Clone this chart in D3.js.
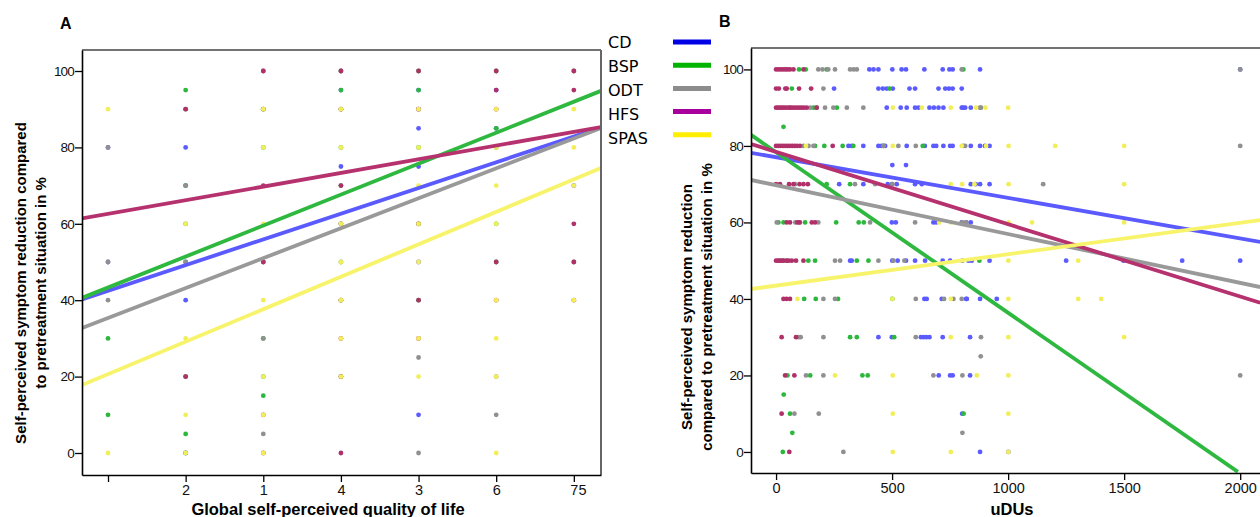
<html>
  <meta charset="utf-8" />
  <script src="https://d3js.org/d3.v7.min.js"></script>
  <style>
    body { margin: 0; background: #fff; }
    text { font-family: "Liberation Sans", Arial, sans-serif; }
    text.legend { font-family: "DejaVu Sans", Verdana, sans-serif; }
  </style>
  <body>
    <svg width="1260" height="517" id="fig"></svg>
    <script>
      // groups, in legend order
      const groups = ["CD", "BSP", "ODT", "HFS", "SPAS"];
      const legendColors = ["#0000e6", "#00b400", "#8c8c8c", "#a8009c", "#ffee00"];
      const lineColors = ["#5a5aff", "#2fb83f", "#999999", "#b5326e", "#f7f46c"];
      const dotColors = ["#5b5bff", "#2db83d", "#909090", "#b0306a", "#f2ee5a"];

      // panel A: x = position 1..7, tick labels as printed
      const xTicksA = [1, 2, 3, 4, 5, 6, 7];
      const xLabelsA = ["", "2", "1", "4", "3", "6", "75"];
      const yTicks = [0, 20, 40, 60, 80, 100];

      // panel A scatter, [position, score]
      const cdA = [[1, 80], [1, 50], [2, 80], [2, 50], [2, 40], [2, 0], [2, 70], [4, 95], [4, 75],
        [5, 95], [5, 90], [5, 85], [5, 75], [5, 50], [5, 10], [6, 95], [6, 85], [7, 70]];
      const bspA = [[1, 30], [1, 10], [2, 95], [2, 90], [2, 70], [2, 60], [2, 20], [2, 5], [2, 0],
        [3, 90], [3, 80], [3, 50], [3, 30], [3, 20], [3, 15], [4, 100], [4, 95], [4, 90], [4, 80],
        [4, 70], [4, 60], [4, 50], [4, 40], [4, 20], [5, 100], [5, 95], [5, 80], [5, 60], [5, 40],
        [6, 100], [6, 85], [6, 80], [6, 60], [6, 50], [7, 100], [7, 50]];
      const odtA = [[1, 80], [1, 50], [1, 40], [2, 70], [2, 50], [2, 20], [3, 100], [3, 30], [3, 5],
        [4, 100], [5, 25], [5, 0], [6, 20], [6, 10]];
      const spasA = [[1, 90], [1, 0], [2, 60], [2, 30], [2, 10], [2, 0], [3, 90], [3, 80], [3, 60],
        [3, 40], [3, 20], [3, 10], [3, 0], [4, 90], [4, 80], [4, 60], [4, 50], [4, 40], [4, 30],
        [4, 20], [5, 90], [5, 80], [5, 70], [5, 60], [5, 50], [5, 30], [5, 20], [6, 90], [6, 80],
        [6, 70], [6, 60], [6, 40], [6, 30], [6, 20], [6, 0], [7, 90], [7, 80], [7, 70], [7, 40]];
      const hfsA = [[2, 90], [2, 20], [3, 100], [3, 90], [3, 70], [3, 50], [3, 10], [3, 0],
        [4, 100], [4, 90], [4, 70], [4, 60], [4, 40], [4, 30], [4, 20], [4, 0], [5, 100], [5, 90],
        [5, 60], [5, 40], [5, 30], [6, 100], [6, 95], [6, 90], [6, 50], [6, 40], [7, 100], [7, 95],
        [7, 60], [7, 50], [7, 40]];

      // panel A fit lines: value at left and right edge of the frame
      const fitStartA = [40.2, 40.6, 32.7, 61.4, 17.8];
      const fitEndA = [85.2, 94.8, 85.1, 85.3, 74.6];

      // panel B scatter, [uDUs, score]
      const cdB = [[402, 100], [420, 100], [441, 100], [501, 100], [541, 100], [560, 100], [639, 100],
        [718, 100], [747, 100], [761, 100], [879, 100], [2000, 100],
        [250, 95], [441, 95], [460, 95], [477, 95], [503, 95], [575, 95], [599, 95], [700, 95],
        [729, 95], [745, 95], [761, 95], [800, 95],
        [477, 90], [537, 90], [563, 90], [599, 90], [614, 90], [661, 90], [680, 90], [700, 90],
        [721, 90], [800, 90], [806, 90], [815, 90], [839, 90],
        [312, 80], [326, 80], [376, 80], [441, 80], [455, 80], [470, 80], [563, 80], [641, 80],
        [678, 80], [690, 80], [721, 80], [750, 80], [761, 80], [839, 80], [879, 80], [900, 80], [920, 80],
        [501, 75], [560, 75],
        [272, 70], [376, 70], [481, 70], [500, 70], [520, 70], [599, 70], [628, 70], [839, 70],
        [860, 70], [879, 70], [920, 70],
        [499, 60], [516, 60], [678, 60], [690, 60], [800, 60], [820, 60], [839, 60],
        [319, 50], [326, 50], [501, 50], [524, 50], [560, 50], [599, 50], [642, 50], [718, 50],
        [750, 50], [829, 50], [843, 50], [920, 50], [1250, 50], [1497, 50], [1750, 50], [2000, 50],
        [639, 40], [649, 40], [714, 40], [819, 40], [822, 40], [879, 40], [951, 40],
        [441, 30], [499, 30], [624, 30], [636, 30], [648, 30], [661, 30], [718, 30], [836, 30],
        [701, 20], [750, 20], [761, 20], [836, 20], [802, 10], [879, 0], [1001, 0]];
      const bspB = [[99, 100], [128, 100], [218, 100], [807, 100], [68, 95], [489, 95],
        [161, 90], [175, 90], [262, 90], [32, 85],
        [168, 80], [208, 80], [287, 80], [333, 80], [463, 80], [632, 80], [218, 70], [319, 70],
        [10, 60], [32, 60], [125, 60], [259, 60], [356, 60], [378, 60],
        [30, 50], [139, 50], [168, 50], [348, 50], [398, 50], [876, 50],
        [121, 40], [171, 40], [267, 40], [501, 40], [319, 30], [348, 30], [509, 30],
        [49, 20], [147, 20], [372, 20], [395, 20], [33, 15], [60, 10], [808, 10], [70, 5], [29, 0]];
      const odtB = [[182, 100], [200, 100], [225, 100], [254, 100], [319, 100], [334, 100],
        [348, 100], [800, 100], [2000, 100], [204, 95],
        [60, 90], [147, 90], [211, 90], [247, 90], [305, 90], [376, 90], [879, 90], [883, 90],
        [118, 80], [140, 80], [161, 80], [463, 80], [527, 80], [602, 80], [806, 80], [815, 80], [2000, 80],
        [82, 70], [340, 70], [427, 70], [501, 70], [1151, 70],
        [3, 60], [83, 60], [103, 60], [182, 60], [405, 60], [599, 60], [802, 60], [819, 60],
        [14, 50], [30, 50], [46, 50], [254, 50], [276, 50], [441, 50], [506, 50], [553, 50], [803, 50],
        [204, 40], [254, 40], [602, 40], [724, 40], [764, 40], [800, 40],
        [96, 30], [106, 30], [204, 30], [602, 30], [883, 30], [882, 25],
        [129, 20], [204, 20], [678, 20], [803, 20], [2000, 20], [79, 10], [184, 10], [803, 5], [290, 0]];
      const spasB = [[503, 90], [628, 90], [753, 90], [862, 90], [902, 90], [1000, 90],
        [129, 80], [503, 80], [800, 80], [905, 80], [1002, 80], [1203, 80], [1500, 80],
        [753, 70], [802, 70], [855, 70], [1002, 70], [1500, 70],
        [703, 60], [753, 60], [1002, 60], [1103, 60], [1500, 60], [1001, 50], [1302, 50],
        [92, 40], [501, 40], [753, 40], [1001, 40], [1302, 40], [1401, 40],
        [753, 30], [1001, 30], [1500, 30], [254, 20], [503, 20], [865, 20], [1001, 20],
        [503, 10], [1001, 10], [503, 0], [753, 0], [1001, 0]];
      const hfsB = [[0, 100], [10, 100], [20, 100], [30, 100], [40, 100], [50, 100], [60, 100],
        [75, 100], [118, 100],
        [0, 95], [12, 95], [40, 95], [46, 95], [99, 95], [151, 95],
        [0, 90], [8, 90], [16, 90], [24, 90], [32, 90], [40, 90], [50, 90], [60, 90], [70, 90],
        [80, 90], [90, 90], [100, 90], [110, 90], [120, 90], [132, 90], [175, 90],
        [0, 80], [10, 80], [20, 80], [30, 80], [40, 80], [50, 80], [60, 80], [70, 80], [80, 80],
        [90, 80], [103, 80], [244, 80],
        [0, 70], [17, 70], [56, 70], [75, 70], [101, 70], [118, 70], [137, 70],
        [46, 60], [60, 60], [92, 60], [101, 60], [154, 60], [168, 60],
        [0, 50], [10, 50], [20, 50], [30, 50], [45, 50], [55, 50], [68, 50], [86, 50], [118, 50],
        [32, 40], [45, 40], [60, 40], [24, 30], [86, 30], [39, 20], [79, 20], [24, 10], [57, 0]];

      // panel B fit lines: [x0, y0, x1, y1]
      const fitStartXB = [-108, -108, -108, -108, -108];
      const fitStartB = [78.2, 82.9, 71.1, 80.5, 42.6];
      const fitEndXB = [2086, 1990, 2086, 2086, 2086];
      const fitEndB = [54.9, -5.2, 43.1, 39.0, 60.6];
      const xTicksB = [0, 500, 1000, 1500, 2000];

      const svg = d3.select("#fig");

      function drawPanel(opt) {
        const { x, y, dots, fits, xTicks, xFormat, letter, letterX } = opt;
        const [l, r] = x.range();
        const [b, t] = y.range();
        const g = svg.append("g");

        const clipId = "clip" + letter;
        svg.append("clipPath").attr("id", clipId)
          .append("rect").attr("x", l).attr("y", t).attr("width", r - l).attr("height", b - t);

        const plot = g.append("g").attr("clip-path", `url(#${clipId})`);
        dots.forEach((pts, i) => {
          plot.append("g").selectAll("circle").data(pts).enter().append("circle")
            .attr("cx", (d) => x(d[0]))
            .attr("cy", (d) => y(d[1]))
            .attr("r", 2.4)
            .attr("fill", dotColors[i]);
        });
        fits.forEach((f, i) => {
          plot.append("line")
            .attr("x1", x(f[0])).attr("y1", y(f[1]))
            .attr("x2", x(f[2])).attr("y2", y(f[3]))
            .attr("stroke", lineColors[i]).attr("stroke-width", 3.8);
        });

        // frame top / right
        g.append("line").attr("x1", l).attr("x2", r).attr("y1", t).attr("y2", t)
          .attr("stroke", "#444").attr("stroke-width", 1.5);
        g.append("line").attr("x1", r).attr("x2", r).attr("y1", t).attr("y2", b)
          .attr("stroke", "#666").attr("stroke-width", 2);

        const ya = g.append("g").attr("transform", `translate(${l},0)`)
          .call(d3.axisLeft(y).tickValues(yTicks).tickSize(7).tickPadding(1).tickSizeOuter(0));
        ya.selectAll("text").attr("font-size", 13.5).attr("letter-spacing", -0.8).attr("fill", "#111");

        const xa = g.append("g").attr("transform", `translate(0,${b})`)
          .call(d3.axisBottom(x).tickValues(xTicks).tickFormat(xFormat).tickSize(7).tickPadding(3).tickSizeOuter(0));
        xa.selectAll("text").attr("font-size", 14.5).attr("fill", "#111");

        g.selectAll(".domain").attr("stroke", "#000").attr("stroke-width", 1.6);
        g.selectAll(".tick line").attr("stroke", "#000").attr("stroke-width", 1.3);

        svg.append("text").attr("x", letterX).attr("y", opt.letterY)
          .attr("font-size", 16).attr("font-weight", "bold").text(letter);
        return xa;
      }

      // panel A
      const xA = d3.scaleLinear().domain([0.665, 7.35]).range([82, 601]);
      const yA = d3.scaleLinear().domain([-5.76, 105.5]).range([475, 50]);
      const xaA = drawPanel({
        x: xA, y: yA, letter: "A", letterX: 60, letterY: 29,
        dots: [cdA, bspA, odtA, hfsA, spasA],
        fits: groups.map((_, i) => [0.665, fitStartA[i], 7.35, fitEndA[i]]),
        xTicks: xTicksA,
        xFormat: (d, i) => xLabelsA[i],
      });
      // last label "75" starts at its tick
      xaA.selectAll(".tick text").filter((d) => d === 7)
        .attr("text-anchor", "start").attr("x", -4);

      // panel B
      const xB = d3.scaleLinear().domain([-108, 2150]).range([751, 1275]);
      const yB = d3.scaleLinear().domain([-5.5, 105.6]).range([473, 48]);
      drawPanel({
        x: xB, y: yB, letter: "B", letterX: 719, letterY: 27,
        dots: [cdB, bspB, odtB, hfsB, spasB],
        fits: groups.map((_, i) => [fitStartXB[i], fitStartB[i], fitEndXB[i], fitEndB[i]]),
        xTicks: xTicksB,
        xFormat: d3.format("d"),
      });

      // axis titles
      function vTitle(cx, cy, lines) {
        const t = svg.append("text")
          .attr("transform", `translate(${cx},${cy}) rotate(-90)`)
          .attr("text-anchor", "middle").attr("font-size", 15).attr("font-weight", "bold");
        lines.forEach((s, i) => {
          t.append("tspan").attr("x", 0).attr("dy", i === 0 ? 0 : 20).text(s);
        });
      }
      vTitle(26, 283, ["Self-perceived symptom reduction compared", "to pretreatment situation in %"]);
      vTitle(692, 307, ["Self-perceived symptom reduction", "compared to pretreatment situation in %"]);

      svg.append("text").attr("x", 328).attr("y", 515).attr("text-anchor", "middle")
        .attr("font-size", 16.5).attr("font-weight", "bold").text("Global self-perceived quality of life");
      svg.append("text").attr("x", 1012).attr("y", 515).attr("text-anchor", "middle")
        .attr("font-size", 16.5).attr("font-weight", "bold").text("uDUs");

      // legend
      const legend = svg.append("g").attr("transform", "translate(608,0)");
      groups.forEach((name, i) => {
        legend.append("text").attr("class", "legend").attr("x", 0).attr("y", 47.5 + i * 24)
          .attr("font-size", 16).text(name);
        legend.append("line").attr("x1", 65).attr("x2", 103)
          .attr("y1", 42 + i * 23.2).attr("y2", 42 + i * 23.2)
          .attr("stroke", legendColors[i]).attr("stroke-width", 5);
      });
    </script>
  </body>
</html>
